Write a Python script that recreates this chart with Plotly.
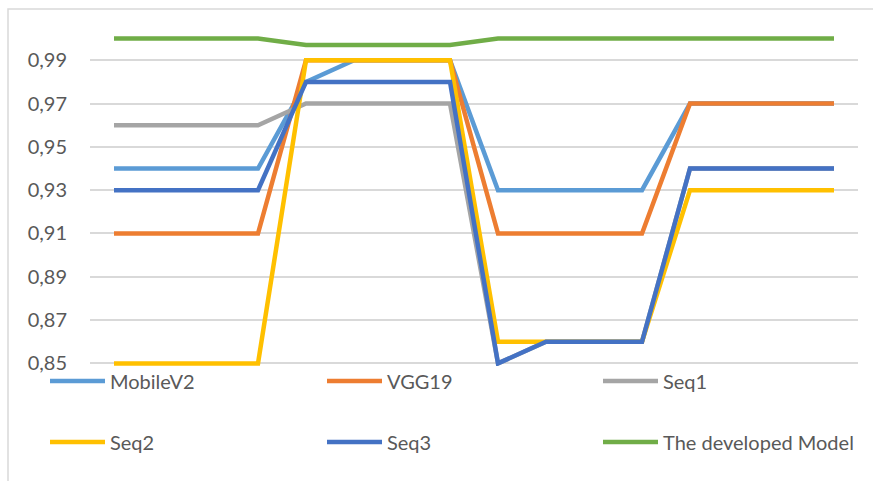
import plotly.graph_objects as go

# ---- data ----
points = list(range(1, 17))
mobilev2 = [0.94, 0.94, 0.94, 0.94, 0.98, 0.99, 0.99, 0.99, 0.93, 0.93, 0.93, 0.93, 0.97, 0.97, 0.97, 0.97]
vgg19    = [0.91, 0.91, 0.91, 0.91, 0.99, 0.99, 0.99, 0.99, 0.91, 0.91, 0.91, 0.91, 0.97, 0.97, 0.97, 0.97]
seq1     = [0.96, 0.96, 0.96, 0.96, 0.97, 0.97, 0.97, 0.97, 0.85, 0.86, 0.86, 0.86, 0.94, 0.94, 0.94, 0.94]
seq2     = [0.85, 0.85, 0.85, 0.85, 0.99, 0.99, 0.99, 0.99, 0.86, 0.86, 0.86, 0.86, 0.93, 0.93, 0.93, 0.93]
seq3     = [0.93, 0.93, 0.93, 0.93, 0.98, 0.98, 0.98, 0.98, 0.85, 0.86, 0.86, 0.86, 0.94, 0.94, 0.94, 0.94]
developed = [1.0, 1.0, 1.0, 1.0, 0.997, 0.997, 0.997, 0.997, 1.0, 1.0, 1.0, 1.0, 1.0, 1.0, 1.0, 1.0]

series_names = ["MobileV2", "VGG19", "Seq1", "Seq2", "Seq3", "The developed Model"]
series_values = [mobilev2, vgg19, seq1, seq2, seq3, developed]
series_colors = ["#5B9BD5", "#ED7D31", "#A5A5A5", "#FFC000", "#4472C4", "#70AD47"]

FONT = "Lato"
TXT = "#595959"
GRID = "#D9D9D9"

W, H = 873, 481
Y0, Y1 = 0.8488, 1.0012
L, R = 90, 15
# keep 0.85 at y=363 px and 0.99 at ~60 px
px_per_unit = 43.3 / 0.02
T = round(363 - (Y1 - 0.85) * px_per_unit)
B = round(H - 363 - (0.85 - Y0) * px_per_unit)
pw = W - L - R
ph = H - T - B

def px_x(x):
    return (x - L) / pw

def px_y(y):
    return (H - B - y) / ph

# legend slots (pixel positions of each legend entry): 3 columns x 2 rows
legend_cols = [45, 322, 598]
legend_rows = [381, 442]

fig = go.Figure()
layout_legends = {}
for i, (name, vals, col) in enumerate(zip(series_names, series_values, series_colors)):
    key = "legend" if i == 0 else f"legend{i + 1}"
    fig.add_trace(go.Scatter(
        x=points, y=vals, name=name, mode="lines",
        line=dict(color=col, width=4.5, shape="linear"),
        legend=key, showlegend=True,
    ))
    layout_legends[key] = dict(
        orientation="h", x=px_x(legend_cols[i % 3]), xanchor="left",
        y=px_y(legend_rows[i // 3]), yanchor="middle", itemwidth=55,
        font=dict(family=FONT, size=20, color=TXT), bgcolor="rgba(0,0,0,0)",
    )

fig.update_layout(
    width=W, height=H,
    margin=dict(l=L, r=R, t=T, b=B),
    paper_bgcolor="white", plot_bgcolor="white",
    showlegend=True,
    separators=", ",
    font=dict(family=FONT, size=20, color=TXT),
    xaxis=dict(range=[0.5, 16.5], showticklabels=False, showgrid=False,
               zeroline=False, showline=False, ticks=""),
    yaxis=dict(range=[Y0, Y1], tick0=0.85, dtick=0.02, tickformat=".2f",
               showgrid=True, gridcolor=GRID, gridwidth=1.5, zeroline=False,
               showline=False, ticks="", ticklabelstandoff=22,
               tickfont=dict(family=FONT, size=20, color=TXT)),
    shapes=[dict(type="rect", xref="paper", yref="paper",
                 x0=px_x(8), x1=px_x(890), y0=px_y(500), y1=px_y(9),
                 line=dict(color=GRID, width=1.5), fillcolor="rgba(0,0,0,0)", layer="below")],
    **layout_legends,
)

fig.write_html("out.html")
